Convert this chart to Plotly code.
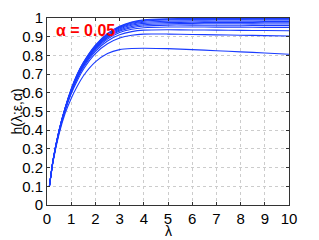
import plotly.graph_objects as go

lam = [0.1, 0.25, 0.5, 0.75, 1, 1.25, 1.5, 2, 2.5, 3, 3.5, 4, 5, 6, 7, 8, 9, 10]

c1 = [0.10, 0.23, 0.38, 0.49, 0.57, 0.635, 0.69, 0.765, 0.81, 0.831, 0.837, 0.838, 0.836, 0.831, 0.825, 0.819, 0.813, 0.806]
c2 = [0.10, 0.235, 0.39, 0.505, 0.595, 0.665, 0.725, 0.81, 0.862, 0.893, 0.908, 0.914, 0.914, 0.912, 0.910, 0.908, 0.906, 0.904]
c3 = [0.10, 0.236, 0.392, 0.51, 0.60, 0.675, 0.735, 0.822, 0.877, 0.910, 0.927, 0.935, 0.937, 0.936, 0.935, 0.934, 0.933, 0.932]
c4 = [0.10, 0.237, 0.394, 0.512, 0.605, 0.68, 0.742, 0.830, 0.887, 0.922, 0.940, 0.948, 0.952, 0.952, 0.951, 0.951, 0.950, 0.950]
c5 = [0.10, 0.238, 0.395, 0.514, 0.608, 0.685, 0.746, 0.836, 0.894, 0.930, 0.948, 0.957, 0.962, 0.962, 0.961, 0.961, 0.960, 0.960]
c6 = [0.10, 0.238, 0.396, 0.515, 0.61, 0.688, 0.75, 0.84, 0.899, 0.936, 0.955, 0.964, 0.969, 0.970, 0.969, 0.969, 0.968, 0.968]
c7 = [0.10, 0.239, 0.397, 0.516, 0.612, 0.691, 0.753, 0.843, 0.903, 0.941, 0.961, 0.971, 0.976, 0.977, 0.976, 0.976, 0.975, 0.975]
c8 = [0.10, 0.239, 0.398, 0.517, 0.614, 0.694, 0.756, 0.846, 0.907, 0.946, 0.967, 0.977, 0.983, 0.984, 0.983, 0.983, 0.982, 0.982]
c9 = [0.10, 0.24, 0.399, 0.518, 0.616, 0.696, 0.758, 0.849, 0.911, 0.950, 0.972, 0.983, 0.989, 0.990, 0.990, 0.990, 0.989, 0.989]
c10 = [0.10, 0.24, 0.40, 0.519, 0.618, 0.698, 0.760, 0.852, 0.914, 0.953, 0.976, 0.987, 0.993, 0.994, 0.994, 0.994, 0.994, 0.994]
c11 = [0.10, 0.24, 0.40, 0.52, 0.62, 0.70, 0.762, 0.855, 0.917, 0.956, 0.979, 0.990, 0.996, 0.998, 0.998, 0.998, 0.998, 0.998]

curves = [c1, c2, c3, c4, c5, c6, c7, c8, c9, c10, c11]

x_ticks = [0, 1, 2, 3, 4, 5, 6, 7, 8, 9, 10]
y_ticks = [0, 0.1, 0.2, 0.3, 0.4, 0.5, 0.6, 0.7, 0.8, 0.9, 1]
y_tick_labels = ["0", "0.1", "0.2", "0.3", "0.4", "0.5", "0.6", "0.7", "0.8", "0.9", "1"]

FONT = "Liberation Sans, Arial, Helvetica"

fig = go.Figure()
for c in curves:
    fig.add_trace(go.Scatter(x=lam, y=c, mode="lines",
                             line=dict(color="#1a3cff", width=1.1, shape="spline", smoothing=0.6),
                             showlegend=False, hoverinfo="skip"))

fig.add_annotation(x=0.3, y=0.935, xref="x", yref="y", text="<b>α = 0.05</b>",
                   showarrow=False, xanchor="left", yanchor="middle",
                   font=dict(family=FONT, size=16, color="#ff0000"))

# axis titles
fig.add_annotation(x=0.5, y=-0.185, xref="paper", yref="paper", text="λ",
                   showarrow=False, xanchor="center", yanchor="bottom", borderpad=0,
                   font=dict(family=FONT, size=14, color="#000"))
fig.add_annotation(x=-0.128, y=0.5, xref="paper", yref="paper", text="h(λ;ε,α)",
                   showarrow=False, xanchor="center", yanchor="middle", textangle=-90,
                   font=dict(family=FONT, size=14, color="#000"))

axis_common = dict(showline=True, linecolor="#333", linewidth=1, mirror="ticks",
                   ticks="inside", ticklen=3, tickcolor="#333",
                   showgrid=True, gridcolor="#cccccc", griddash="dot", gridwidth=1,
                   zeroline=False, automargin=False,
                   tickfont=dict(family=FONT, size=15, color="#000"))

fig.update_xaxes(range=[0, 10], tickvals=x_ticks, **axis_common)
fig.update_yaxes(range=[0, 1], tickvals=y_ticks, ticktext=y_tick_labels, **axis_common)

# page body adds an 8px offset, so the figure is sized/margined to compensate
fig.update_layout(width=311, height=232, margin=dict(l=39, r=30, t=10, b=35),
                  paper_bgcolor="white", plot_bgcolor="white")

fig.write_html("out.html")
